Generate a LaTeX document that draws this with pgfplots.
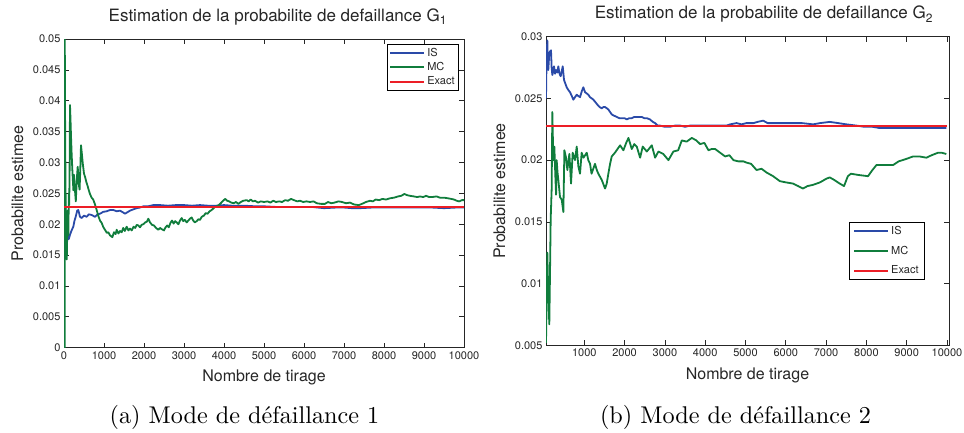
\documentclass[border=0pt]{standalone}
\usepackage{fontspec}
\newfontfamily\heros{TeX Gyre Heros}
\usepackage{pgfplots}
\pgfplotsset{compat=1.18}

\definecolor{isblue}{RGB}{42,74,168}
\definecolor{mcgreen}{RGB}{16,125,60}
\definecolor{exred}{RGB}{236,30,38}

\pgfplotsset{
  mat/.style={
    scale only axis,
    axis line style={black!85, line width=0.9pt},
    every tick/.style={black!85, line width=0.7pt},
    tick align=inside, major tick length=5pt,
    xtick pos=both, ytick pos=both,
    ticklabel style={font=\heros\fontsize{11}{13}\selectfont, text=black!85},
    xlabel style={font=\heros\fontsize{16}{19}\selectfont, text=black!85,
      at={(axis description cs:0.5,0)}, anchor=base, yshift=-34pt},
    ylabel style={font=\heros\fontsize{16}{19}\selectfont, text=black!85, anchor=base},
    every axis title/.style={font=\heros\fontsize{17}{20}\selectfont, text=black!85,
      anchor=base, yshift=18pt},
    scaled ticks=false,
    /pgf/number format/1000 sep={},
    /pgf/number format/fixed,
    /pgf/number format/precision=3,
    /pgf/number format/assume math mode=true,
    legend style={font=\heros\fontsize{11}{13}\selectfont, draw=black, line width=0.8pt,
      text=black!85, cells={anchor=west}, inner sep=2pt},
    legend image code/.code={\draw[#1, line width=2pt] (0pt,0pt) -- (34pt,0pt);},
    xlabel={Nombre de tirage},
    ylabel={Probabilite estimee},
  },
  isp/.style={isblue, line width=1.8pt, line join=round},
  mcp/.style={mcgreen, line width=1.8pt, line join=round},
  exp/.style={exred, line width=1.8pt},
}

\begin{document}
\begin{tikzpicture}
\useasboundingbox (0pt,0pt) rectangle (964pt,432pt);

% ---------- G1 ----------
\begin{axis}[mat,
  at={(64pt,84.3pt)}, anchor=south west, width=400pt, height=308.7pt,
  xmin=0, xmax=10000, ymin=0, ymax=0.05,
  xtick={0,1000,2000,3000,4000,5000,6000,7000,8000,9000,10000},
  ytick={0,0.005,0.01,0.015,0.02,0.025,0.03,0.035,0.04,0.045,0.05},
  ylabel style={at={(axis description cs:-0.1025,0.5)}},
  title={Estimation de la probabilite de defaillance G\raisebox{-0.4ex}{\fontsize{12}{12}\selectfont 1}},
  title style={at={(axis description cs:0.534,1)}},
  legend style={at={(axis description cs:0.9875,0.984)}, anchor=north east, row sep=0.5pt},
]
\addplot[isp] coordinates {
(5,0.0259) (20,0.0250) (40,0.0215) (60,0.0180) (80,0.0172) (100,0.0185) (120,0.0176)
(150,0.0183) (190,0.0190) (233,0.0196) (260,0.0205) (292,0.0212) (330,0.0222) (358,0.0223)
(400,0.0212) (442,0.0210) (500,0.0214) (567,0.0212) (620,0.0216) (692,0.0215) (775,0.0212)
(840,0.0216) (900,0.0217) (980,0.0220) (1067,0.0221) (1150,0.0223) (1233,0.0223) (1320,0.0221)
(1400,0.0222) (1480,0.0219) (1525,0.0217) (1600,0.0220) (1650,0.0222) (1730,0.0224) (1817,0.0226)
(1900,0.0227) (1983,0.0229) (2100,0.0229) (2233,0.0231) (2400,0.0231) (2600,0.0230) (2800,0.0231)
(3000,0.0231) (3200,0.0230) (3400,0.0231) (3600,0.0230) (3800,0.0230) (4000,0.0231) (4200,0.0230)
(4500,0.0230) (4800,0.0229) (5000,0.0229) (5300,0.0228) (5600,0.0228) (5900,0.0228) (6200,0.0228)
(6500,0.0226) (6800,0.0227) (7000,0.0227) (7200,0.0226) (7400,0.0226) (7700,0.0227) (8000,0.0227)
(8300,0.0227) (8600,0.0227) (8900,0.0227) (9200,0.0227) (9500,0.0226) (9800,0.0227) (10000,0.0227)
};
\addlegendentry{IS}
\addplot[mcp] coordinates {
(1,0) (18,0) (20,0.05) (24,0.0417) (30,0.0333) (40,0.025) (50,0.02) (60,0.0167) (70,0.0143)
(80,0.0188) (90,0.0222) (100,0.02) (110,0.0182) (120,0.025) (130,0.0231) (140,0.0286) (150,0.0393)
(160,0.0375) (175,0.0343) (190,0.0316) (205,0.0293) (220,0.0273) (235,0.0255) (250,0.028)
(265,0.0264) (280,0.025) (295,0.0237) (310,0.0258) (325,0.0277) (342,0.0293) (360,0.0278)
(375,0.0262) (390,0.0256) (405,0.0284) (425,0.0328) (445,0.0315) (470,0.0298) (500,0.0282)
(525,0.0277) (560,0.0268) (590,0.0262) (620,0.0255) (650,0.0249) (690,0.0243) (730,0.0240)
(770,0.0233) (817,0.0223) (860,0.0213) (900,0.0206) (942,0.0202) (985,0.0195) (1025,0.0191)
(1070,0.0186) (1108,0.0187) (1150,0.0182) (1208,0.0179) (1250,0.0187) (1290,0.0184) (1317,0.0191)
(1360,0.0185) (1400,0.0189) (1442,0.0187) (1480,0.0194) (1520,0.0189) (1567,0.0196) (1610,0.0190)
(1650,0.0193) (1692,0.0190) (1740,0.0196) (1780,0.0194) (1820,0.0199) (1858,0.0198) (1900,0.0195)
(1940,0.0199) (1983,0.0200) (2030,0.0203) (2070,0.0204) (2108,0.0209) (2150,0.0203) (2200,0.0199)
(2250,0.0198) (2300,0.0194) (2358,0.0191) (2400,0.0194) (2442,0.0192) (2500,0.0190) (2540,0.0195)
(2580,0.0198) (2620,0.0195) (2660,0.0202) (2700,0.0206) (2740,0.0201) (2780,0.0205) (2817,0.0203)
(2860,0.0200) (2900,0.0206) (2942,0.0210) (2980,0.0205) (3020,0.0207) (3067,0.0203) (3110,0.0206)
(3150,0.0209) (3192,0.0211) (3230,0.0206) (3270,0.0203) (3317,0.0205) (3360,0.0208) (3400,0.0207)
(3442,0.0212) (3500,0.0214) (3540,0.0218) (3590,0.0217) (3640,0.0221) (3692,0.0223) (3740,0.0226)
(3775,0.0228) (3820,0.0229) (3870,0.0231) (3920,0.0234) (3960,0.0237) (4030,0.0241) (4080,0.0238)
(4130,0.0237) (4180,0.0235) (4245,0.0234) (4300,0.0236) (4360,0.0233) (4420,0.0236) (4480,0.0238)
(4567,0.0239) (4620,0.0237) (4668,0.0240) (4720,0.0237) (4775,0.0238) (4850,0.0235) (4920,0.0237)
(5000,0.0236) (5090,0.0237) (5160,0.0235) (5230,0.0238) (5300,0.0236) (5380,0.0237) (5450,0.0236)
(5530,0.0239) (5600,0.0238) (5675,0.0241) (5750,0.0239) (5830,0.0237) (5900,0.0238) (5980,0.0236)
(6060,0.0237) (6150,0.0236) (6240,0.0237) (6320,0.0234) (6420,0.0233) (6525,0.0233) (6600,0.0236)
(6680,0.0234) (6760,0.0235) (6863,0.0237) (6950,0.0236) (7050,0.0234) (7150,0.0235) (7250,0.0232)
(7370,0.0231) (7450,0.0233) (7550,0.0236) (7650,0.0238) (7720,0.0237) (7793,0.0240) (7880,0.0239)
(7960,0.0241) (8050,0.0240) (8150,0.0242) (8250,0.0243) (8350,0.0245) (8430,0.0246) (8510,0.0249)
(8580,0.0247) (8650,0.0246) (8750,0.0245) (8830,0.0244) (8900,0.0245) (8980,0.0244) (9050,0.0246)
(9130,0.0244) (9200,0.0244) (9313,0.0245) (9400,0.0243) (9500,0.0243) (9600,0.0242) (9680,0.0241)
(9750,0.0240) (9820,0.0238) (9880,0.0237) (9950,0.0239) (10000,0.0239)
};
\addlegendentry{MC}
\addplot[exp] coordinates {(0,0.02275) (10000,0.02275)};
\addlegendentry{Exact}
\end{axis}

% ---------- G2 ----------
\begin{axis}[mat,
  at={(546pt,86.7pt)}, anchor=south west, width=403pt, height=308.6pt,
  xmin=50, xmax=10050, ymin=0.005, ymax=0.03,
  xtick={1000,2000,3000,4000,5000,6000,7000,8000,9000,10000},
  ytick={0.005,0.01,0.015,0.02,0.025,0.03},
  ylabel style={at={(axis description cs:-0.1017,0.5)}},
  title={Estimation de la probabilite de defaillance G\raisebox{-0.4ex}{\fontsize{12}{12}\selectfont 2}},
  title style={at={(axis description cs:0.540,1)}},
  legend style={at={(axis description cs:0.9404,0.3996)}, anchor=north east, row sep=6pt, inner xsep=4pt},
]
\addplot[isp] coordinates {
(50,0.0250) (65,0.0285) (83,0.0297) (95,0.0280) (107,0.0273) (130,0.0286) (149,0.0288) (174,0.0289)
(190,0.0275) (207,0.0269) (230,0.0272) (249,0.0276) (275,0.0270) (298,0.0273) (330,0.0271)
(356,0.0276) (385,0.0270) (415,0.0268) (440,0.0272) (465,0.0276) (497,0.0265) (530,0.0262)
(564,0.0259) (600,0.0257) (646,0.0255) (690,0.0252) (728,0.0249) (770,0.0251) (812,0.0253)
(850,0.0252) (894,0.0251) (940,0.0256) (976,0.0259) (1020,0.0255) (1061,0.0254) (1100,0.0253)
(1143,0.0251) (1185,0.0250) (1225,0.0249) (1275,0.0247) (1324,0.0245) (1380,0.0243) (1433,0.0242)
(1475,0.0243) (1515,0.0243) (1560,0.0242) (1597,0.0241) (1640,0.0239) (1681,0.0237) (1740,0.0236)
(1806,0.0235) (1870,0.0234) (1930,0.0234) (2000,0.0234) (2054,0.0233) (2120,0.0234) (2178,0.0234)
(2240,0.0235) (2302,0.0235) (2360,0.0235) (2426,0.0235) (2490,0.0234) (2551,0.0234) (2628,0.0233)
(2700,0.0231) (2757,0.0230) (2820,0.0228) (2881,0.0228) (3000,0.0227) (3124,0.0227) (3250,0.0228)
(3378,0.0228) (3500,0.0227) (3626,0.0228) (3750,0.0228) (3874,0.0228) (4000,0.0228) (4123,0.0228)
(4250,0.0228) (4371,0.0228) (4529,0.0228) (4619,0.0229) (4777,0.0230) (4900,0.0229) (5025,0.0230)
(5200,0.0230) (5300,0.0231) (5438,0.0232) (5550,0.0230) (5700,0.0230) (5850,0.0230) (6000,0.0230)
(6200,0.0230) (6400,0.0230) (6678,0.0229) (6850,0.0230) (7091,0.0231) (7300,0.0230) (7500,0.0229)
(7752,0.0228) (7950,0.0227) (8150,0.0227) (8331,0.0226) (8550,0.0226) (8744,0.0226) (8950,0.0226)
(9157,0.0226) (9350,0.0226) (9550,0.0226) (9750,0.0226) (9983,0.0226)
};
\addlegendentry{IS}
\addplot[mcp] coordinates {
(50,0.0052) (83,0.0125) (100,0.0100) (132,0.0067) (150,0.0110) (166,0.0152) (190,0.0176)
(207,0.0239) (232,0.0200) (257,0.0211) (282,0.0187) (300,0.0172) (315,0.0200) (336,0.0190)
(356,0.0184) (398,0.0170) (440,0.0168) (481,0.0158) (506,0.0208) (547,0.0202) (580,0.0192)
(630,0.0205) (671,0.0181) (712,0.0206) (770,0.0200) (812,0.0211) (853,0.0195) (894,0.0189)
(935,0.0206) (980,0.0202) (1061,0.0206) (1100,0.0200) (1143,0.0197) (1180,0.0189) (1266,0.0197)
(1310,0.0192) (1349,0.0189) (1433,0.0184) (1480,0.0180) (1515,0.0177) (1556,0.0181) (1597,0.0189)
(1640,0.0197) (1681,0.0203) (1760,0.0206) (1889,0.0212) (1970,0.0208) (2040,0.0214) (2096,0.0218)
(2178,0.0209) (2240,0.0213) (2302,0.0211) (2385,0.0202) (2450,0.0211) (2551,0.0207) (2675,0.0212)
(2757,0.0202) (2840,0.0207) (2960,0.0205) (3088,0.0200) (3211,0.0207) (3330,0.0208) (3420,0.0216)
(3540,0.0215) (3668,0.0218) (3780,0.0216) (3874,0.0213) (3980,0.0214) (4081,0.0208) (4160,0.0209)
(4247,0.0209) (4371,0.0206) (4495,0.0203) (4600,0.0204) (4702,0.0200) (4826,0.0199) (4950,0.0199)
(5025,0.0198) (5140,0.0197) (5273,0.0192) (5400,0.0193) (5521,0.0190) (5686,0.0187) (5851,0.0183)
(6000,0.0182) (6182,0.0181) (6306,0.0179) (6424,0.0177) (6540,0.0179) (6678,0.0180) (6850,0.0182)
(7008,0.0185) (7091,0.0186) (7200,0.0184) (7339,0.0181) (7445,0.0179) (7540,0.0187) (7617,0.0189)
(7800,0.0188) (8040,0.0187) (8150,0.0192) (8248,0.0196) (8381,0.0196) (8500,0.0196) (8661,0.0196)
(8800,0.0199) (8992,0.0201) (9157,0.0203) (9313,0.0203) (9488,0.0202) (9620,0.0204) (9777,0.0206)
(9870,0.0206) (9983,0.0205)
};
\addlegendentry{MC}
\addplot[exp] coordinates {(50,0.02275) (10000,0.02275)};
\addlegendentry{Exact}
\end{axis}

\node[anchor=base] at (244.5pt,9pt) {\scalebox{2.42}{\fontsize{10}{12}\selectfont (a)~Mode de défaillance 1}};
\node[anchor=base] at (735.5pt,9pt) {\scalebox{2.42}{\fontsize{10}{12}\selectfont (b)~Mode de défaillance 2}};
\end{tikzpicture}
\end{document}
